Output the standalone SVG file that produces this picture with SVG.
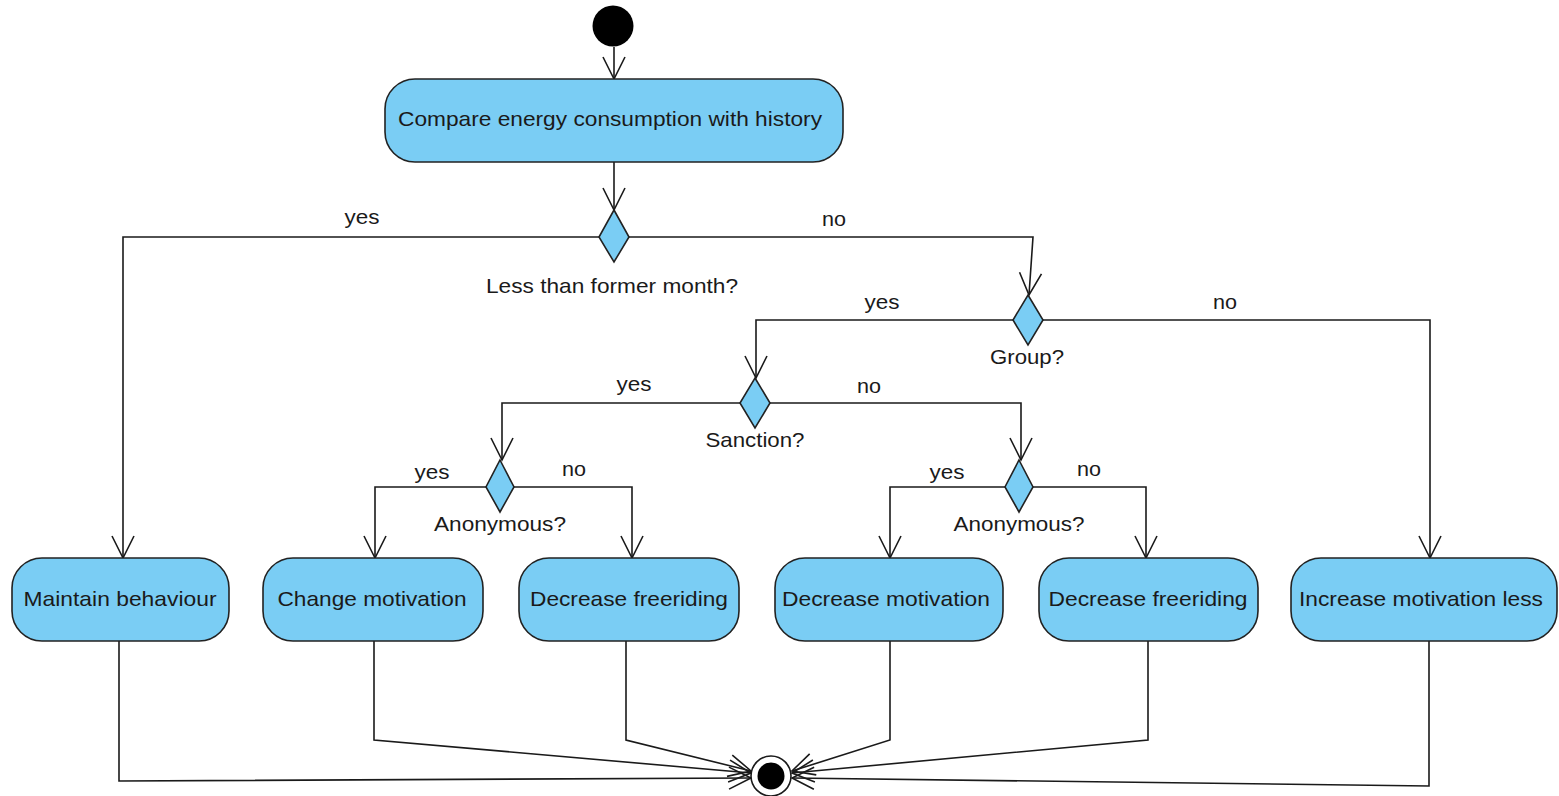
<svg xmlns="http://www.w3.org/2000/svg" width="1559" height="796" viewBox="0 0 1559 796">
<style>
.act{fill:#7acdf4;stroke:#222;stroke-width:1.6}
.dec{fill:#7acdf4;stroke:#222;stroke-width:1.6}
.t{font-family:"Liberation Sans",Arial,sans-serif;font-size:21px;fill:#1a1a1a;text-anchor:middle}
.c{fill:none;stroke:#1a1a1a;stroke-width:1.6;marker-end:url(#arr)}
</style>
<defs>
<marker id="arr" markerUnits="userSpaceOnUse" markerWidth="30" markerHeight="30" viewBox="-25 -15 30 30" refX="0" refY="0" orient="auto">
<path d="M-22,-11 L0,0 L-22,11" fill="none" stroke="#1a1a1a" stroke-width="1.6"/>
</marker>
</defs>
<g id="connectors">
<path class="c" d="M614,47 V79"/>
<path class="c" d="M614,162 V210"/>
<path class="c" d="M599,237 H123 V558"/>
<path class="c" d="M629,237 H1033 L1029,295"/>
<path class="c" d="M1013,320 H756 V378"/>
<path class="c" d="M1043,320 H1430 V558"/>
<path class="c" d="M740,403 H502 V460"/>
<path class="c" d="M770,403 H1021 V460"/>
<path class="c" d="M486,487 H375 V558"/>
<path class="c" d="M514,487 H632 V558"/>
<path class="c" d="M1005,487 H890 V558"/>
<path class="c" d="M1033,487 H1146 V558"/>
<path class="c" d="M119,641 V781 L751,778"/>
<path class="c" d="M374,641 V740 L751,773"/>
<path class="c" d="M626,641 V740 L751,771"/>
<path class="c" d="M890,641 V740 L792,771"/>
<path class="c" d="M1148,641 V740 L792,773"/>
<path class="c" d="M1429,641 V786 L792,778"/>
<text class="t" x="362" y="224" textLength="35" lengthAdjust="spacingAndGlyphs">yes</text>
<text class="t" x="834" y="226" textLength="24" lengthAdjust="spacingAndGlyphs">no</text>
<text class="t" x="882" y="309" textLength="35" lengthAdjust="spacingAndGlyphs">yes</text>
<text class="t" x="1225" y="309" textLength="24" lengthAdjust="spacingAndGlyphs">no</text>
<text class="t" x="634" y="391" textLength="35" lengthAdjust="spacingAndGlyphs">yes</text>
<text class="t" x="869" y="393" textLength="24" lengthAdjust="spacingAndGlyphs">no</text>
<text class="t" x="432" y="479" textLength="35" lengthAdjust="spacingAndGlyphs">yes</text>
<text class="t" x="574" y="476" textLength="24" lengthAdjust="spacingAndGlyphs">no</text>
<text class="t" x="947" y="479" textLength="35" lengthAdjust="spacingAndGlyphs">yes</text>
<text class="t" x="1089" y="476" textLength="24" lengthAdjust="spacingAndGlyphs">no</text>
</g>
<g id="start"><circle cx="613" cy="26" r="20.5" fill="#000"/></g>
<g id="compare">
<rect class="act" x="385" y="79" width="458" height="83" rx="30"/>
<text class="t" x="610" y="126" textLength="424" lengthAdjust="spacingAndGlyphs">Compare energy consumption with history</text>
</g>
<g id="d-less">
<polygon class="dec" points="614,210 629,237 614,262 599,237"/>
<text class="t" x="612" y="293" textLength="252" lengthAdjust="spacingAndGlyphs">Less than former month?</text>
</g>
<g id="d-group">
<polygon class="dec" points="1028,295 1043,320 1028,345 1013,320"/>
<text class="t" x="1027" y="364" textLength="74" lengthAdjust="spacingAndGlyphs">Group?</text>
</g>
<g id="d-sanction">
<polygon class="dec" points="755,378 770,403 755,428 740,403"/>
<text class="t" x="755" y="447" textLength="99" lengthAdjust="spacingAndGlyphs">Sanction?</text>
</g>
<g id="d-anon1">
<polygon class="dec" points="500,460 514,487 500,512 486,487"/>
<text class="t" x="500" y="531" textLength="132" lengthAdjust="spacingAndGlyphs">Anonymous?</text>
</g>
<g id="d-anon2">
<polygon class="dec" points="1019,460 1033,487 1019,512 1005,487"/>
<text class="t" x="1019" y="531" textLength="131" lengthAdjust="spacingAndGlyphs">Anonymous?</text>
</g>
<g id="maintain">
<rect class="act" x="12" y="558" width="217" height="83" rx="30"/>
<text class="t" x="120" y="606" textLength="193" lengthAdjust="spacingAndGlyphs">Maintain behaviour</text>
</g>
<g id="change">
<rect class="act" x="263" y="558" width="220" height="83" rx="30"/>
<text class="t" x="372" y="606" textLength="189" lengthAdjust="spacingAndGlyphs">Change motivation</text>
</g>
<g id="freeriding1">
<rect class="act" x="519" y="558" width="220" height="83" rx="30"/>
<text class="t" x="629" y="606" textLength="198" lengthAdjust="spacingAndGlyphs">Decrease freeriding</text>
</g>
<g id="decmotivation">
<rect class="act" x="775" y="558" width="228" height="83" rx="30"/>
<text class="t" x="886" y="606" textLength="208" lengthAdjust="spacingAndGlyphs">Decrease motivation</text>
</g>
<g id="freeriding2">
<rect class="act" x="1039" y="558" width="219" height="83" rx="30"/>
<text class="t" x="1148" y="606" textLength="199" lengthAdjust="spacingAndGlyphs">Decrease freeriding</text>
</g>
<g id="increase">
<rect class="act" x="1291" y="558" width="266" height="83" rx="30"/>
<text class="t" x="1421" y="606" textLength="244" lengthAdjust="spacingAndGlyphs">Increase motivation less</text>
</g>
<g id="end">
<circle cx="771" cy="776" r="20" fill="#fff" stroke="#1a1a1a" stroke-width="1.6"/>
<circle cx="771" cy="776" r="13.5" fill="#000"/>
</g>
</svg>
